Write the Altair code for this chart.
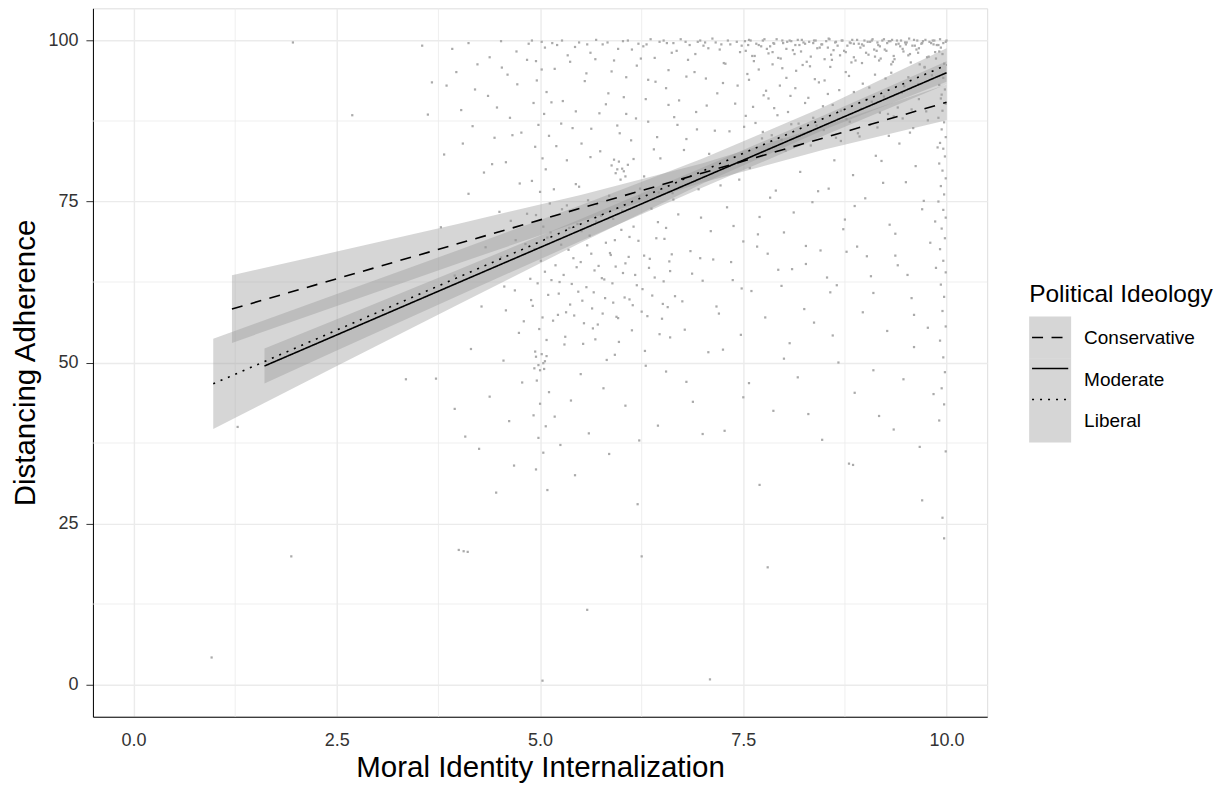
import altair as alt
import pandas as pd

groups = ["Conservative", "Moderate", "Liberal"]

# ---- fitted regression lines (end points) ----
line_x0 = [1.21, 1.61, 0.98]
line_x1 = [10.0, 10.0, 10.0]
line_y0 = [58.3, 49.46, 46.7]
line_y1 = [90.4, 95.0, 96.2]

# ---- confidence bands (read at several x positions) ----
cons_band_x = [1.21, 2.5, 4.0, 5.5, 7.0, 8.5, 10.0]
cons_band_lo = [53.05, 58.79, 65.42, 71.91, 77.95, 83.08, 87.62]
cons_band_hi = [63.55, 67.23, 71.56, 76.03, 80.95, 86.76, 93.18]

mod_band_x = [1.61, 2.5, 4.0, 5.5, 7.0, 8.5, 10.0]
mod_band_lo = [46.76, 51.86, 60.41, 68.86, 77.17, 85.28, 93.2]
mod_band_hi = [52.16, 56.72, 64.45, 72.28, 80.27, 88.44, 96.8]

lib_band_x = [0.98, 2.5, 4.0, 5.5, 7.0, 8.5, 10.0]
lib_band_lo = [39.69, 49.45, 59.06, 68.58, 77.81, 86.2, 93.59]
lib_band_hi = [53.71, 60.63, 67.48, 74.44, 81.67, 89.74, 98.81]

# ---- raw responses (jittered), estimated region by region ----
top_pts = [
    (3.55, 99.2), (3.92, 98.7), (4.12, 99.6), (4.38, 97.4), (4.52, 99.9), (4.71, 98.3),
    (4.86, 99.5), (4.95, 96.8), (5.02, 99.8), (5.06, 98.9), (5.21, 99.3), (5.34, 97.7),
    (5.48, 99.7), (5.62, 98.1), (5.77, 99.4), (5.91, 96.9), (6.02, 99.9), (6.13, 98.6),
    (6.27, 99.1), (6.41, 97.3), (6.56, 99.6), (6.68, 98.4), (6.79, 99.8), (6.91, 97.9),
    (7.01, 99.2), (7.07, 98.8), (7.16, 99.7), (7.26, 96.5), (7.34, 99.4), (7.46, 98.2),
    (7.52, 99.9), (7.61, 97.6), (7.72, 99.1), (7.79, 98.7), (7.88, 99.5), (7.96, 97.2),
    (8.04, 99.8), (8.11, 98.5), (8.19, 99.3), (8.28, 96.7), (8.36, 99.6), (8.44, 98.9),
    (8.52, 99.9), (8.58, 97.8), (8.66, 99.2), (8.74, 98.4), (8.81, 99.7), (8.88, 96.9),
    (8.96, 99.4), (9.01, 98.1), (9.06, 99.8), (9.12, 97.5), (9.18, 99.1), (9.24, 98.6),
    (9.29, 99.9), (9.36, 97.1), (9.41, 99.5), (9.47, 98.3), (9.51, 99.7), (9.56, 96.6),
    (9.61, 99.2), (9.66, 98.8), (9.71, 99.9), (9.76, 97.4), (9.81, 99.6), (9.86, 98.2),
    (9.9, 99.3), (9.95, 97.9), (9.99, 99.8), (9.97, 96.4), (9.93, 98.9), (9.87, 97.2),
    (9.84, 99.4), (9.73, 95.8), (9.63, 98.6), (9.53, 97.7), (9.43, 99.1), (9.32, 96.3),
    (9.14, 98.4), (8.86, 99.5), (8.54, 98.9), (8.24, 99.7), (7.86, 98.2), (7.56, 99.3),
    (7.21, 98.6), (6.94, 99.8), (6.62, 98.1), (6.31, 99.4), (5.96, 98.7), (5.43, 99.0),
]
top2_pts = [
    (6.52, 100.0), (6.64, 99.6), (6.73, 100.2), (6.84, 99.3), (6.97, 100.0), (7.03, 99.7),
    (7.12, 100.3), (7.23, 99.4), (7.31, 100.0), (7.42, 99.8), (7.48, 99.2), (7.57, 100.1),
    (7.66, 99.5), (7.74, 100.0), (7.83, 99.1), (7.91, 100.2), (7.99, 99.6), (8.07, 100.0),
    (8.14, 99.3), (8.22, 100.1), (8.31, 99.8), (8.39, 100.0), (8.47, 99.4), (8.55, 100.3),
    (8.63, 99.7), (8.71, 100.0), (8.78, 99.2), (8.84, 100.1), (8.92, 99.5), (8.99, 100.0),
    (9.03, 99.8), (9.09, 100.2), (9.16, 99.3), (9.21, 100.0), (9.27, 99.6), (9.33, 100.1),
    (9.38, 99.4), (9.44, 100.0), (9.49, 99.7), (9.54, 100.3), (9.58, 99.2), (9.64, 100.0),
    (9.69, 99.5), (9.74, 100.1), (9.79, 99.8), (9.83, 100.0), (9.88, 99.3), (9.92, 100.2),
    (9.96, 99.6), (10.0, 100.0), (5.15, 99.6), (5.27, 100.0), (5.58, 99.4), (5.69, 100.1),
    (5.83, 99.7), (6.08, 100.0), (6.21, 99.5), (6.36, 100.2), (6.47, 99.8), (4.9, 100.0),
]
dense_top_pts = [
    (7.53, 98.4), (7.59, 100.0), (7.64, 97.6), (7.69, 99.3), (7.76, 100.2), (7.81, 98.0),
    (7.87, 99.6), (7.93, 97.3), (7.98, 100.0), (8.03, 98.7), (8.09, 99.9), (8.13, 97.9),
    (8.17, 100.1), (8.21, 98.3), (8.26, 99.5), (8.33, 97.5), (8.37, 100.0), (8.41, 98.8),
    (8.46, 99.4), (8.5, 97.1), (8.56, 100.2), (8.61, 98.5), (8.64, 99.8), (8.69, 97.7),
    (8.72, 100.0), (8.76, 98.2), (8.82, 99.6), (8.86, 97.4), (8.9, 100.1), (8.94, 98.9),
    (8.98, 99.2), (9.04, 97.8), (9.08, 100.0), (9.11, 98.6), (9.15, 99.7), (9.19, 97.2),
    (9.23, 100.2), (9.26, 98.4), (9.31, 99.9), (9.35, 97.6), (9.39, 100.0), (9.46, 98.7),
    (9.5, 99.4), (9.55, 97.9), (9.6, 100.1), (9.65, 98.1), (9.7, 99.6), (9.78, 97.5),
    (9.85, 100.0), (9.91, 98.3),
]
col10_pts = [
    (9.96, 94.2), (9.91, 93.1), (9.98, 92.4), (9.93, 91.0), (9.99, 90.2), (9.95, 89.1),
    (9.9, 88.0), (9.97, 87.3), (9.94, 86.2), (9.99, 85.0), (9.92, 84.1), (9.96, 83.2),
    (9.98, 82.0), (9.91, 80.9), (9.95, 79.8), (9.99, 78.6), (9.93, 77.4), (9.97, 76.1),
    (9.9, 75.0), (9.96, 73.7), (9.99, 72.5), (9.94, 70.8), (9.98, 69.3), (9.92, 67.6),
    (9.96, 65.8), (9.99, 64.0), (9.93, 62.1), (9.97, 60.2), (9.95, 58.0), (9.99, 55.6),
    (9.92, 53.4), (9.96, 50.8), (9.98, 48.5), (9.94, 46.0), (9.97, 43.5), (9.91, 41.0),
    (9.99, 36.2), (9.95, 25.9), (9.97, 22.7),
]
col5_pts = [
    (5.02, 95.5), (4.96, 93.8), (5.08, 92.0), (4.92, 90.3), (5.05, 88.6), (4.98, 86.9),
    (5.11, 85.2), (4.94, 83.5), (5.03, 81.7), (5.07, 80.0), (4.9, 78.2), (5.0, 76.5),
    (5.12, 74.7), (4.95, 72.9), (5.04, 71.1), (5.09, 69.4), (4.93, 67.6), (5.01, 65.8),
    (5.06, 64.1), (4.97, 62.3), (5.1, 60.5), (4.91, 58.8), (5.03, 57.0), (4.99, 55.2),
    (5.08, 53.5), (4.94, 51.7), (5.05, 49.0), (4.96, 47.2), (5.11, 45.4), (5.0, 43.6),
    (4.92, 41.8), (5.07, 40.1), (4.98, 38.3), (5.04, 36.0), (4.95, 33.4), (5.09, 30.2),
]
cluster50_pts = [
    (4.95, 50.9), (4.98, 49.6), (5.02, 51.3), (5.06, 50.2), (4.93, 49.1), (5.08, 51.0),
    (5.0, 48.8), (5.04, 49.9),
]
cluster80_pts = [
    (5.88, 80.6), (5.93, 79.4), (5.97, 81.2), (6.01, 80.1), (6.05, 78.9), (5.91, 81.5),
    (6.08, 80.7), (5.99, 78.4), (6.03, 79.7), (5.95, 80.0),
]
mid_pts = [
    (3.62, 88.5), (3.78, 71.0), (3.85, 93.0), (3.95, 63.5), (4.05, 84.0), (4.12, 76.2),
    (4.2, 92.4), (4.28, 58.7), (4.33, 67.9), (4.41, 80.8), (4.47, 89.6), (4.5, 73.4),
    (4.56, 61.8), (4.6, 94.7), (4.66, 85.3), (4.7, 69.0), (4.75, 77.8), (4.8, 56.4),
    (5.2, 83.6), (5.24, 62.5), (5.28, 90.6), (5.32, 57.8), (5.36, 70.9), (5.4, 86.4),
    (5.45, 64.8), (5.48, 77.3), (5.52, 59.6), (5.55, 93.7), (5.58, 68.2), (5.62, 81.9),
    (5.65, 55.3), (5.7, 74.6), (5.73, 88.7), (5.76, 63.1), (5.8, 60.0), (5.84, 91.8),
    (5.87, 66.7), (5.9, 72.3), (5.94, 57.1), (5.98, 85.6), (6.02, 63.9), (6.06, 94.3),
    (6.1, 69.5), (6.14, 58.9), (6.18, 87.9), (6.22, 75.8), (6.26, 61.4), (6.3, 90.9),
    (6.35, 66.1), (6.4, 83.1), (6.45, 71.8), (6.5, 56.8),
    (6.55, 92.6), (6.6, 64.2), (6.65, 88.1), (6.7, 73.0), (6.75, 59.5), (6.8, 84.7),
    (6.85, 67.3), (6.9, 95.1), (6.95, 76.9), (7.0, 62.7), (7.05, 89.9), (7.1, 70.4),
    (7.15, 86.0), (7.2, 57.6), (7.25, 93.4), (7.3, 74.1), (7.35, 65.6), (7.4, 90.2),
    (7.45, 78.4), (7.5, 68.8), (7.55, 94.8), (7.6, 61.1), (7.65, 87.2), (7.7, 72.6),
    (7.75, 91.5), (7.8, 66.9), (7.85, 85.3), (7.9, 76.7), (7.95, 93.0),
    (8.0, 70.2), (8.05, 88.9), (8.1, 64.5), (8.15, 95.3), (8.2, 79.6), (8.25, 58.3),
    (8.3, 91.1), (8.35, 74.9), (8.4, 86.8), (8.45, 67.4), (8.5, 93.8), (8.55, 77.0),
    (8.6, 90.0), (8.65, 62.0), (8.7, 84.4), (8.75, 72.2), (8.8, 94.5), (8.85, 79.1),
    (8.9, 68.0), (8.95, 89.4), (9.0, 75.5), (9.05, 92.7), (9.1, 60.8), (9.15, 86.5),
    (9.2, 81.3), (9.25, 94.1), (9.3, 71.4), (9.35, 88.2), (9.4, 65.1), (9.45, 91.9),
    (9.5, 78.0), (9.55, 85.7), (9.6, 57.4), (9.65, 93.2), (9.7, 73.8), (9.75, 89.0),
    (9.8, 68.6),
]
mid2_pts = [
    (6.03, 91.2), (6.12, 84.5), (6.19, 96.1), (6.28, 78.9), (6.33, 87.4), (6.42, 93.6),
    (6.48, 81.7), (6.53, 69.2), (6.58, 95.4), (6.63, 76.3), (6.71, 90.7), (6.77, 83.0),
    (6.82, 97.0), (6.87, 63.8), (6.93, 86.2), (6.98, 72.5), (7.04, 94.1), (7.08, 82.4),
    (7.13, 66.0), (7.18, 91.8), (7.22, 77.5), (7.28, 96.4), (7.33, 85.9), (7.38, 71.2),
    (7.43, 93.0), (7.48, 61.5), (7.53, 88.3), (7.58, 80.2), (7.63, 96.8), (7.68, 69.9),
    (7.73, 84.8), (7.78, 92.2), (7.83, 75.6), (7.88, 89.5), (7.93, 64.4), (7.98, 95.7),
    (8.02, 82.9), (8.08, 91.4), (8.12, 73.3), (8.18, 87.1), (8.23, 96.2), (8.27, 68.1),
    (8.33, 83.7), (8.38, 94.0), (8.42, 76.6), (8.48, 89.8), (8.53, 63.2), (8.57, 95.9),
    (8.62, 81.4), (8.68, 92.3), (8.73, 70.7), (8.77, 87.8), (8.83, 96.6), (8.87, 74.3),
    (8.93, 85.1), (8.97, 93.3), (9.02, 66.5), (9.08, 90.5), (9.13, 82.1), (9.17, 96.9),
    (9.22, 77.9), (9.28, 88.6), (9.32, 95.0), (9.37, 70.0), (9.42, 84.0), (9.48, 92.9),
    (9.52, 63.6), (9.57, 89.3), (9.62, 80.5), (9.67, 96.3), (9.72, 75.1), (9.77, 87.6),
    (9.82, 94.6), (9.86, 71.9), (9.89, 83.4), (9.94, 91.6),
]
mid3_pts = [
    (4.52, 66.3), (4.58, 58.1), (4.64, 72.0), (4.69, 61.2), (4.74, 54.6), (4.82, 68.4),
    (4.88, 63.0), (5.13, 70.2), (5.16, 56.5), (5.19, 65.1), (5.23, 60.7), (5.27, 73.8),
    (5.31, 54.0), (5.35, 67.5), (5.39, 62.2), (5.42, 57.3), (5.46, 71.5), (5.5, 65.6),
    (5.53, 52.9), (5.57, 61.7), (5.61, 69.7), (5.64, 58.4), (5.67, 64.3), (5.71, 55.9),
    (5.75, 72.8), (5.79, 62.9), (5.82, 50.4), (5.86, 67.0), (5.9, 59.3), (5.93, 64.9),
    (5.97, 53.2), (6.0, 70.6), (6.04, 60.1), (6.09, 66.4), (6.13, 55.0), (6.17, 63.6),
    (6.21, 68.9), (6.25, 57.9), (6.29, 51.8), (6.34, 64.7), (6.38, 60.4), (6.43, 69.3),
    (6.47, 54.4), (6.52, 62.6), (6.57, 58.6), (6.62, 66.8),
]
dense_mid_pts = [
    (4.84, 73.1), (4.89, 59.7), (5.14, 62.8), (5.17, 76.9), (5.22, 57.4), (5.26, 68.3),
    (5.29, 63.6), (5.33, 74.4), (5.37, 59.0), (5.41, 66.2), (5.44, 77.7), (5.47, 61.0),
    (5.51, 70.4), (5.54, 56.1), (5.59, 75.2), (5.63, 66.9), (5.66, 60.9), (5.69, 71.9),
    (5.72, 65.0), (5.77, 57.6), (5.81, 68.6), (5.85, 75.9), (5.89, 62.3), (5.92, 69.0),
    (5.96, 56.9), (6.01, 73.6), (6.05, 65.4), (6.1, 59.8), (6.15, 71.1), (6.19, 62.0),
    (6.23, 77.0), (6.28, 66.6), (6.32, 57.2), (6.37, 73.9), (6.41, 63.2), (6.46, 76.4),
    (6.51, 59.1), (6.55, 70.9), (6.59, 65.7), (6.64, 75.3),
]
upper_left_pts = [
    (3.82, 82.3), (3.97, 95.1), (4.03, 89.2), (4.17, 86.7), (4.23, 96.3), (4.31, 79.5),
    (4.36, 91.4), (4.44, 84.9), (4.53, 95.8), (4.58, 81.1), (4.63, 88.0), (4.72, 93.2),
    (4.77, 85.7), (4.84, 97.0), (5.14, 90.4), (5.18, 95.6), (5.26, 87.1), (5.33, 81.4),
    (5.37, 96.7), (5.44, 89.0), (5.51, 84.0), (5.57, 94.9), (5.63, 86.3), (5.68, 97.1),
    (5.74, 82.8), (5.81, 90.1), (5.88, 95.2), (5.95, 86.8), (6.06, 88.6), (6.15, 81.6),
    (6.24, 97.2), (6.33, 93.9), (6.44, 85.0), (6.58, 90.0), (6.69, 86.9), (6.8, 94.4),
    (6.92, 88.9),
]
dense_right_pts = [
    (7.51, 86.6), (7.57, 93.9), (7.62, 89.7), (7.69, 95.5), (7.74, 85.8), (7.81, 91.0),
    (7.86, 96.3), (7.92, 88.4), (7.97, 84.6), (8.03, 94.2), (8.09, 87.0), (8.14, 92.6),
    (8.21, 85.3), (8.26, 90.3), (8.32, 96.0), (8.36, 88.0), (8.43, 93.5), (8.49, 86.1),
    (8.54, 91.7), (8.59, 97.0), (8.64, 84.9), (8.7, 89.1), (8.76, 95.1), (8.81, 87.4),
    (8.86, 92.0), (8.91, 85.6), (8.96, 96.5), (9.01, 90.8), (9.06, 86.9), (9.12, 94.7),
    (9.18, 88.8), (9.23, 91.3), (9.29, 85.2), (9.34, 96.7), (9.4, 89.6), (9.46, 87.9),
    (9.53, 94.3), (9.59, 86.4), (9.66, 90.9), (9.73, 95.9),
]
right_low_pts = [
    (6.55, 48.6), (6.66, 60.3), (6.78, 55.1), (6.88, 43.9), (6.97, 66.2), (7.07, 51.6),
    (7.17, 58.7), (7.27, 39.4), (7.37, 62.8), (7.47, 54.3), (7.57, 46.8), (7.67, 68.0),
    (7.77, 57.0), (7.87, 42.5), (7.97, 61.9), (8.07, 53.0), (8.17, 47.7), (8.27, 65.3),
    (8.37, 56.2), (8.47, 38.0), (8.57, 60.9), (8.67, 50.0), (8.77, 67.2), (8.87, 45.3),
    (8.97, 57.8), (9.07, 63.4), (9.17, 41.7), (9.27, 54.9), (9.37, 66.6), (9.47, 47.4),
    (9.57, 60.0), (9.67, 36.9), (9.77, 55.4), (9.84, 45.1), (9.87, 64.7),
]
low_pts = [
    (3.72, 47.5), (3.95, 42.8), (4.08, 38.5), (4.15, 52.1), (4.25, 36.6), (4.38, 44.7),
    (4.46, 29.8), (4.55, 50.3), (4.62, 40.9), (4.68, 34.0), (4.78, 46.9), (5.18, 41.6),
    (5.25, 37.2), (5.3, 52.8), (5.38, 44.1), (5.43, 32.5), (5.5, 48.2), (5.6, 39.0),
    (5.68, 53.6), (5.78, 46.0), (5.85, 35.8), (5.92, 51.2), (6.05, 43.3), (6.2, 28.0),
    (6.3, 49.5), (6.45, 40.2), (6.6, 53.9), (6.8, 47.0), (7.0, 38.9), (7.25, 52.0),
    (7.5, 44.6), (7.7, 31.0), (8.0, 50.6), (8.3, 42.0), (8.6, 54.2), (8.85, 34.1),
    (9.1, 48.8), (9.35, 39.6), (9.6, 52.4), (9.7, 28.6),
]
outlier_pts = [
    (0.96, 4.2), (1.96, 99.7), (1.94, 19.9), (4.0, 20.9), (4.06, 20.7), (4.11, 20.6),
    (5.58, 11.6), (5.03, 0.6), (7.09, 0.8), (3.67, 93.5), (2.69, 88.4), (1.28, 40.0),
    (6.25, 19.9), (7.8, 18.2), (8.8, 34.3), (3.35, 47.4), (6.22, 37.9),
]

minor_x = [1.25, 3.75, 6.25, 8.75]
minor_y = [12.5, 37.5, 62.5, 87.5]
x_ticks = [0, 2.5, 5, 7.5, 10]
y_ticks = [0, 25, 50, 75, 100]

# ---- tables ----
pts_df = pd.DataFrame(
    top_pts + top2_pts + dense_top_pts + col10_pts + col5_pts + cluster50_pts
    + cluster80_pts + mid_pts + mid2_pts + mid3_pts + dense_mid_pts
    + upper_left_pts + dense_right_pts + right_low_pts + low_pts + outlier_pts,
    columns=["x", "y"],
)

band_rows = []
for g, xs, lo, hi in zip(
    groups,
    [cons_band_x, mod_band_x, lib_band_x],
    [cons_band_lo, mod_band_lo, lib_band_lo],
    [cons_band_hi, mod_band_hi, lib_band_hi],
):
    for a, b, c in zip(xs, lo, hi):
        band_rows.append({"x": a, "lo": b, "hi": c, "band_group": g})
band_df = pd.DataFrame(band_rows)

line_rows = []
for g, a0, a1, b0, b1 in zip(groups, line_x0, line_x1, line_y0, line_y1):
    line_rows.append({"x": a0, "y": b0, "group": g})
    line_rows.append({"x": a1, "y": b1, "group": g})
line_df = pd.DataFrame(line_rows)

minor_x_df = pd.DataFrame({"v": minor_x})
minor_y_df = pd.DataFrame({"v": minor_y})

FONT = "Liberation Sans"
GRID = "#EBEBEB"

x_scale = alt.Scale(domain=[-0.5, 10.5], nice=False, zero=False)
y_scale = alt.Scale(domain=[-5, 105], nice=False, zero=False)

x_axis = alt.Axis(
    values=x_ticks, format=".1f", title="Moral Identity Internalization",
    grid=True, gridColor=GRID, gridWidth=1.4,
    domain=True, domainColor="#000000", domainWidth=1,
    ticks=False, tickSize=0, labelPadding=15, labelFlush=False,
    labelFont=FONT, labelFontSize=18, labelColor="#333333",
    titleFont=FONT, titleFontSize=29.5, titleFontWeight="normal", titleColor="#000000",
    titlePadding=4,
)
y_axis = alt.Axis(
    values=y_ticks, title="Distancing Adherence",
    grid=True, gridColor=GRID, gridWidth=1.4,
    domain=True, domainColor="#000000", domainWidth=1,
    ticks=True, tickSize=7, tickColor="#333333", tickWidth=1,
    labelPadding=8, labelFlush=False,
    labelFont=FONT, labelFontSize=18, labelColor="#333333",
    titleFont=FONT, titleFontSize=29.5, titleFontWeight="normal", titleColor="#000000",
    titlePadding=7,
)


def X(f):
    return alt.X(f"{f}:Q", scale=x_scale, axis=x_axis)


def Y(f):
    return alt.Y(f"{f}:Q", scale=y_scale, axis=y_axis)


legend_common = dict(
    orient="none", legendX=937, legendY=275,
    padding=0, rowPadding=0, titlePadding=9, titleLimit=400, labelLimit=300,
    titleFont=FONT, titleFontSize=24.5, titleFontWeight="normal", titleColor="#000000",
    labelFont=FONT, labelFontSize=19, labelColor="#000000", labelOffset=13,
)

legend_keys = alt.Legend(
    title="Political Ideology",
    symbolType="square", symbolSize=1764, symbolStrokeWidth=0,
    symbolStrokeColor="transparent", symbolOpacity=0.4,
    **legend_common,
)
legend_lines = alt.Legend(
    title=" ",
    symbolType="M-0.9,0H0.9", symbolSize=1620, symbolStrokeWidth=1.6,
    symbolStrokeColor="#000000", symbolFillColor="transparent",
    titleOpacity=0, labelOpacity=0, labelExpr="''",
    **legend_common,
)

minor_v = alt.Chart(minor_x_df).mark_rule(color=GRID, strokeWidth=0.8).encode(x=X("v"))
minor_h = alt.Chart(minor_y_df).mark_rule(color=GRID, strokeWidth=0.8).encode(y=Y("v"))

points = alt.Chart(pts_df).mark_square(size=5, color="#AAAAAA", opacity=1).encode(
    x=X("x"), y=Y("y")
)

bands = alt.Chart(band_df).mark_area(opacity=0.4).encode(
    x=X("x"),
    y=Y("lo"),
    y2="hi:Q",
    fill=alt.Fill(
        "band_group:N", sort=groups,
        scale=alt.Scale(range=["#999999", "#999999", "#999999"]),
        legend=legend_keys,
    ),
)

lines = alt.Chart(line_df).mark_line(color="#000000", strokeWidth=1.6).encode(
    x=X("x"),
    y=Y("y"),
    strokeDash=alt.StrokeDash(
        "group:N", sort=groups,
        scale=alt.Scale(range=[[11, 8.5], [1, 0], [2, 6]]),
        legend=legend_lines,
    ),
)

chart = (
    alt.layer(minor_v, minor_h, points, bands, lines)
    .properties(
        width=895, height=709,
        autosize=alt.AutoSizeParams(type="none"),
        padding={"left": 85, "top": 0, "right": 235, "bottom": 70},
    )
    .configure_view(stroke=None)
    .configure(font=FONT)
)

chart.save("out.html", embed_options={"renderer": "svg", "actions": False})
